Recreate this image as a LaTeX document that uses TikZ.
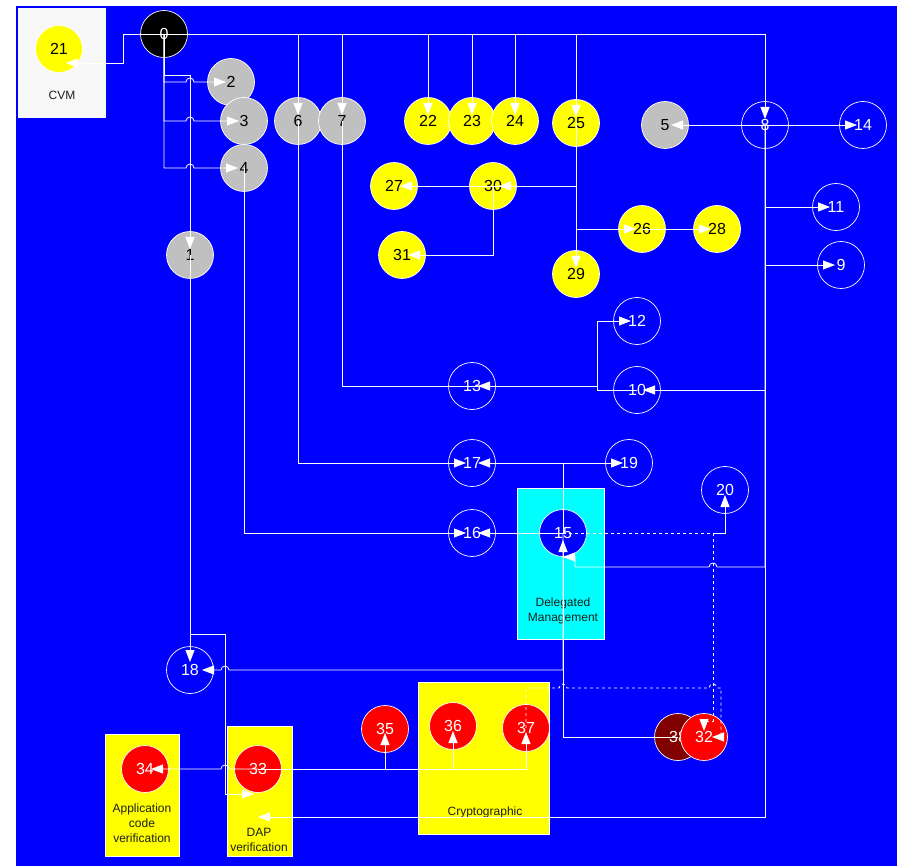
\documentclass[tikz,border=0pt]{standalone}
\usepackage{fontspec}
\setmainfont{Liberation Sans}
\usetikzlibrary{arrows.meta}
\definecolor{bgblue}{RGB}{0,0,255}
\definecolor{nodegray}{RGB}{192,192,192}
\definecolor{cvmwhite}{RGB}{248,248,248}
\definecolor{darkred}{RGB}{128,0,0}
\definecolor{boxtext}{RGB}{30,30,30}
\definecolor{grpyellow}{RGB}{255,255,0}
\definecolor{grpcyan}{RGB}{0,255,255}
\definecolor{nodered}{RGB}{255,0,0}
\newcommand\numfont{\fontsize{16}{18}\selectfont}
\newcommand\grpfont{\fontsize{12}{15}\selectfont}

\begin{document}
\begin{tikzpicture}[x=1pt, y=-1pt,
  st/.style={circle, minimum size=47pt, inner sep=0pt, draw=white, line width=0.7pt, font=\numfont},
  greyst/.style={st, fill=nodegray, text=black},
  yelst/.style={st, fill=grpyellow, text=black},
  redst/.style={st, fill=nodered, text=white},
  bluest/.style={st, fill=bgblue, text=white},
  grp/.style={draw=white, line width=0.6pt, inner sep=0pt},
  grplbl/.style={font=\grpfont, text=boxtext, align=center},
  wire/.style={draw=white, line width=0.8pt, -{Triangle[length=12pt,width=9pt]}}]
\useasboundingbox (0,0) rectangle (897,866);
\fill[white] (0,0) rectangle (897,866);
\fill[bgblue] (16,6) rectangle (897,866);

% Group boxes
\node[grp, draw=none, fill=cvmwhite, minimum width=88pt, minimum height=110pt] (cvm) at (62,63) {};
\node[grp, fill=grpyellow, minimum width=74pt, minimum height=122pt] (acv) at (142,795) {};
\node[grp, fill=grpyellow, minimum width=65pt, minimum height=130pt] (dap) at (259.5,791) {};
\node[grp, fill=grpyellow, minimum width=131pt, minimum height=152pt] (crypto) at (483.5,758) {};
\node[grp, fill=grpcyan, minimum width=87pt, minimum height=151pt] (dm) at (560.5,563.5) {};
\node[grplbl] (cvmlbl) at (62,95) {CVM};
\node[grplbl] (acvlbl) at (142,823) {Application\\code\\verification};
\node[grplbl] (daplbl) at (259,840) {DAP\\verification};
\node[grplbl] (cryptolbl) at (485,812) {Cryptographic};
\node[grplbl] (dmlbl) at (563,611) {Delegated\\Management};

% Top row
\node[st, fill=black, text=white] (n0) at (164,34) {0};
\node[yelst] (n21) at (59,49) {21};
\node[greyst] (n2) at (231,82) {2};
\node[greyst] (n3) at (244,121) {3};
\node[greyst] (n4) at (244,168) {4};
\node[greyst] (n1) at (190,255) {1};
\node[greyst] (n6) at (298,121) {6};
\node[greyst] (n7) at (342,121) {7};
\node[yelst] (n22) at (428,121) {22};
\node[yelst] (n23) at (472,121) {23};
\node[yelst] (n24) at (515,121) {24};
\node[yelst] (n25) at (576,123) {25};
\node[yelst] (n27) at (394,186) {27};
\node[yelst] (n30) at (493,186) {30};
\node[yelst] (n31) at (402,255) {31};
\node[yelst] (n29) at (576,274) {29};
\node[yelst] (n26) at (642,229) {26};
\node[yelst] (n28) at (717,229) {28};
\node[greyst] (n5) at (665,125) {5};
\node[bluest] (n8) at (765,125) {8};
\node[bluest] (n14) at (863,125) {14};
\node[bluest] (n11) at (836,207) {11};
\node[bluest] (n9) at (841,265) {9};

% Middle
\node[bluest] (n12) at (637,321) {12};
\node[bluest] (n10) at (637,390) {10};
\node[bluest] (n13) at (472,386) {13};
\node[bluest] (n17) at (472,463) {17};
\node[bluest] (n19) at (629,463) {19};
\node[bluest] (n16) at (472,533) {16};
\node[bluest] (n15) at (563,533) {15};
\node[bluest] (n20) at (725,490) {20};
\node[bluest] (n18) at (190,670) {18};

% Bottom
\node[redst] (n34) at (145,769) {34};
\node[redst] (n33) at (258,769) {33};
\node[redst] (n35) at (385,729) {35};
\node[redst] (n36) at (453,726) {36};
\node[redst] (n37) at (526,728) {37};
\node[st, fill=darkred, text=white] (n38) at (678,737) {38};
\node[redst] (n32) at (704,737) {32};

% Edges from 0
\draw[wire] (n0.center) -- (123,34) -- (123,63) -- ([xshift=7pt,yshift=-14pt]n21.center);
\draw[wire] (n0.center) -- (164,75) -- (190,75) -- ([yshift=6pt]n1.center);
\draw[wire] (n0.center) |- (186,82) arc[start angle=180, end angle=360, radius=4] -- ([xshift=-5pt]n2.center);
\draw[wire] (n0.center) |- (186,121) arc[start angle=180, end angle=360, radius=4] -- ([xshift=-5pt]n3.center);
\draw[wire] (n0.center) |- (186,168) arc[start angle=180, end angle=360, radius=4] -- ([xshift=-6pt]n4.center);
\draw[wire] (n0.center) -| ([yshift=6pt]n6.center);
\draw[wire] (n0.center) -| ([yshift=6pt]n7.center);
\draw[wire] (n0.center) -| ([yshift=6pt]n22.center);
\draw[wire] (n0.center) -| ([yshift=6pt]n23.center);
\draw[wire] (n0.center) -| ([yshift=6pt]n24.center);
\draw[wire] (n0.center) -| ([yshift=6pt]n25.center);
\draw[wire] (n0.center) -| ([yshift=6pt]n8.center);

% Edges from 8
\draw[wire] (n8.center) -- ([xshift=6pt]n5.center);
\draw[wire] (n8.center) -- ([xshift=-6pt]n14.center);
\draw[wire] (n8.center) |- ([xshift=-6pt]n11.center);
\draw[wire] (n8.center) |- ([xshift=-6pt]n9.center);
\draw[wire] (n8.center) |- ([xshift=6pt]n10.center);
\draw[wire] (n8.center) -- (765,567) -- (717,567) arc[start angle=0, end angle=-180, radius=4] -- (575,567) -- (575,557) -- ([yshift=-24pt]n15.center);
\draw[wire] (n8.center) -- (765,817) -- ([yshift=-48pt]n33.center);

% 7, 10 -> 12, 13
\draw[wire] (n10.center) -- (597,390) -- (597,386) -- ([xshift=6pt]n13.center);
\draw[wire] (n7.center) |- (597,386) -- (597,321) -- ([xshift=-6pt]n12.center);

% 25 cluster
\draw[wire] (n25.center) |- ([xshift=6pt]n30.center);
\draw[wire] (n25.center) |- ([xshift=6pt]n27.center);
\draw[wire] (n30.center) |- ([xshift=6pt]n31.center);
\draw[wire] (n25.center) -- ([yshift=6pt]n29.center);
\draw[wire] (n25.center) |- ([xshift=-6pt]n26.center);
\draw[wire] (n26.center) -- ([xshift=-6pt]n28.center);

% 15 and neighbours
\draw[wire] (n6.center) |- ([xshift=-6pt]n17.center);
\draw[wire] (n15.center) |- ([xshift=6pt]n17.center);
\draw[wire] (n15.center) |- ([xshift=-6pt]n19.center);
\draw[wire] (n4.center) |- ([xshift=-6pt]n16.center);
\draw[wire] (n15.center) -- ([xshift=6pt]n16.center);
\draw[wire] (n15.center) -- (563,670) -- (229,670) arc[start angle=0, end angle=-180, radius=4] -- ([xshift=12pt]n18.center);
\draw[wire] (n38.center) -- (563,737) -- ([yshift=-7pt]n15.center);
\draw[wire, dashed] (n15.center) -- (713,533) -- (713,721) -- (704,721) -- ([yshift=6pt]n32.center);
\coordinate (j20) at (713,533);
\draw[wire] (j20) -- (725,533) -- ([yshift=-5pt]n20.center);

% 1 -> 18, 33
\draw[wire] (n1.center) -- ([yshift=8pt]n18.center);
\draw[wire] (n1.center) -- (190,634) -- (225,634) -- (225,794) -- ([xshift=-4pt,yshift=-25pt]n33.center);

% 33 -> bottom row
\draw[wire] (n33.center) -- (229,769) arc[start angle=0, end angle=-180, radius=4] -- ([xshift=6pt]n34.center);
\draw[wire] (n33.center) -| ([yshift=-4pt]n35.center);
\draw[wire] (n33.center) -| ([yshift=-5pt]n36.center);
\draw[wire] (n33.center) -| ([yshift=-4pt]n37.center);
\draw[wire, dashed] (n37.center) -- (526,688) -- (559,688) arc[start angle=180, end angle=360, radius=4] -- (709,688) arc[start angle=180, end angle=360, radius=4] -- (721,688) -- (721,737) -- ([xshift=8pt]n32.center);
\end{tikzpicture}
\end{document}
